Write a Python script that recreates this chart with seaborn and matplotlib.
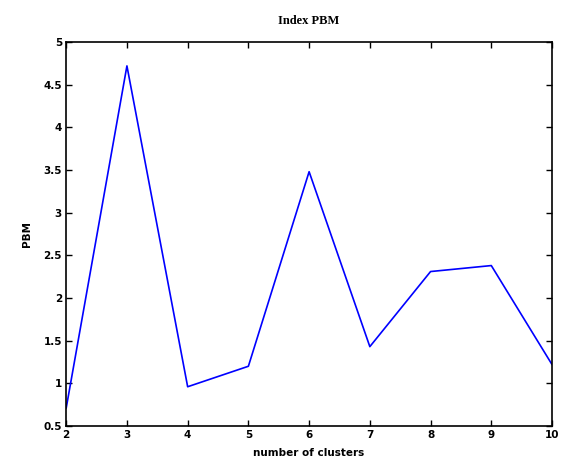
import matplotlib
matplotlib.use("Agg")
import matplotlib.pyplot as plt
import seaborn as sns
import pandas as pd

clusters = [2, 3, 4, 5, 6, 7, 8, 9, 10]
pbm = [0.71, 4.72, 0.96, 1.20, 3.48, 1.43, 2.31, 2.38, 1.22]
xticks = [2, 3, 4, 5, 6, 7, 8, 9, 10]
yticks = [0.5, 1, 1.5, 2, 2.5, 3, 3.5, 4, 4.5, 5]
ytick_labels = ["0.5", "1", "1.5", "2", "2.5", "3", "3.5", "4", "4.5", "5"]

sns.set_style("white")
plt.rcParams['font.family'] = ['DejaVu Sans']

df = pd.DataFrame({"clusters": clusters, "pbm": pbm})

fig = plt.figure(figsize=(5.61, 4.59), dpi=100)
ax = fig.add_axes([0.118, 0.0719, 0.866, 0.8366])
sns.lineplot(data=df, x="clusters", y="pbm", color="#0000ff", linewidth=1.2, ax=ax)

ax.set_xlim(2, 10)
ax.set_ylim(0.5, 5)
ax.set_xticks(xticks)
ax.set_xticklabels([str(v) for v in xticks], fontsize=7.5, fontweight="bold", color="black")
ax.set_yticks(yticks)
ax.set_yticklabels(ytick_labels, fontsize=7.5, fontweight="bold", color="black")
ax.tick_params(direction="in", length=4, width=1, top=True, right=True,
               bottom=True, left=True, pad=3, colors="black")
for s in ax.spines.values():
    s.set_visible(True)
    s.set_color("black")
    s.set_linewidth(1.2)

ax.set_title("Index PBM", fontsize=9, fontweight="bold", color="black",
             family=["Liberation Serif"], pad=13)
ax.set_xlabel("number of clusters", fontsize=7.5, fontweight="bold", color="black", labelpad=6)
ax.set_ylabel("PBM", fontsize=7.5, fontweight="bold", color="black", labelpad=8)

fig.savefig("out.png", dpi=100)
